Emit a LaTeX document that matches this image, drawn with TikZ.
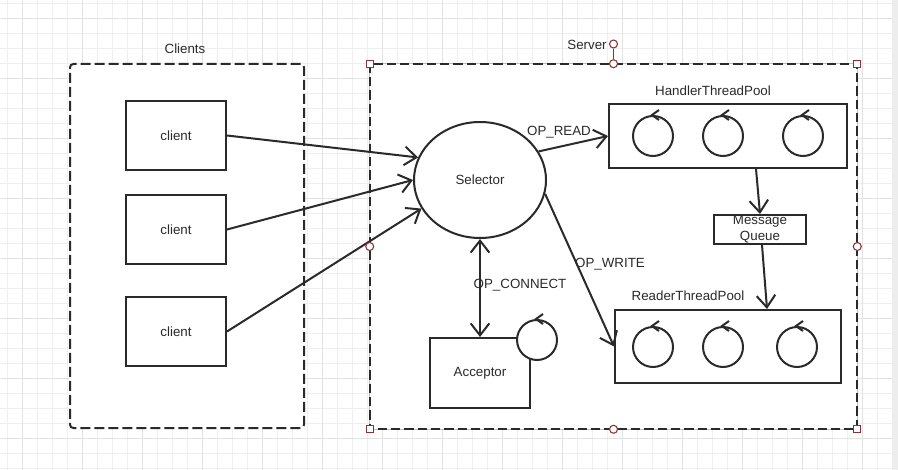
\documentclass[tikz,border=0pt]{standalone}
\usepackage{fontspec}
\setmainfont{Liberation Sans}
\usetikzlibrary{arrows.meta,fit,shapes.geometric}
\definecolor{ink}{HTML}{2A2A2A}
\definecolor{handlec}{HTML}{8A3333}
\definecolor{gridminor}{HTML}{EFEFEF}
\definecolor{gridmajor}{HTML}{E2E2E2}
\definecolor{selline}{HTML}{E6B0B0}
\definecolor{strip}{HTML}{EDEDED}
\newcommand\loopmark[1]{\draw[ink,line width=1.5pt,line join=miter] ([shift={(6,-5)}]#1.north) -- ([shift={(-1,0)}]#1.north) -- ([shift={(6,5)}]#1.north);}
\begin{document}
\begin{tikzpicture}[x=0.75pt,y=-0.75pt,
  txt/.style={font=\fontsize{10}{12}\selectfont, text=ink},
  box/.style={draw=ink, line width=1.5pt, fill=white, inner sep=0pt, txt},
  thread/.style={circle, draw=ink, line width=1.5pt, fill=white, minimum size=30pt, inner sep=0pt},
  arr/.style={draw=ink, line width=1.5pt, -{Straight Barb[length=9pt,width=14pt]}},
  dashbox/.style={draw=ink, line width=1.5pt, fill=white, inner sep=0pt, dash pattern=on 7.5pt off 3pt},
  hsq/.style={draw=handlec, fill=white, line width=0.8pt, minimum size=5.5pt, inner sep=0pt},
  hcirc/.style={circle, draw=handlec, fill=white, line width=0.8pt, minimum size=6pt, inner sep=0pt}]
\useasboundingbox (0,0) rectangle (898,470);
% background grid
\fill[white] (0,0) rectangle (898,470);
\foreach \i in {0,...,58} \draw[gridminor,line width=0.75pt] ({7.3+15*\i},0) -- ({7.3+15*\i},470);
\foreach \j in {0,...,31} \draw[gridminor,line width=0.75pt] (0,{3.3+15*\j}) -- (892,{3.3+15*\j});
\foreach \i in {0,...,14} \draw[gridmajor,line width=0.75pt] ({22.3+60*\i},0) -- ({22.3+60*\i},470);
\foreach \j in {0,...,7} \draw[gridmajor,line width=0.75pt] (0,{18.3+60*\j}) -- (892,{18.3+60*\j});
\fill[strip] (892,0) rectangle (898,470);

% Clients group
\node[dashbox, rounded corners=2.5pt, fit={(70,64) (304,428)}] (clients) {};
\node[txt] (clientslbl) at (185,49) {Clients};
\node[box, minimum width=75pt, minimum height=51.75pt] (c1) at (176,135.5) {client};
\node[box, minimum width=75pt, minimum height=51.75pt] (c2) at (176,229.5) {client};
\node[box, minimum width=75pt, minimum height=51.75pt] (c3) at (176,331.5) {client};

% Server group
\node[fill=white, inner sep=0pt, fit={(370,64) (857,429)}] (server) {};
\draw[selline, line width=1pt] (server.north west) rectangle (server.south east);
\draw[ink, line width=1.5pt, dash pattern=on 7pt off 3pt] (server.north west) rectangle (server.south east);
\node[txt] (serverlbl) at (587,45) {Server};

% Selector
\node[ellipse, draw=ink, line width=1.5pt, fill=white, minimum width=99pt, minimum height=87pt, inner sep=0pt, txt] (sel) at (480,180) {Selector};

% Handler thread pool
\node[box, fit={(609,104) (847,168)}] (hp) {};
\node[txt] (hplbl) at (713,91) {HandlerThreadPool};
\node[thread] (h1) at (653,136) {};
\node[thread] (h2) at (723,136) {};
\node[thread] (h3) at (803,136) {};
\loopmark{h1}\loopmark{h2}\loopmark{h3}

% Message queue
\node[box, align=center, minimum width=69pt, minimum height=21.75pt] (mq) at (760,229.5) {Message\\Queue};

% Reader thread pool
\node[box, fit={(615,310) (841,383)}] (rp) {};
\node[txt] (rplbl) at (688,296) {ReaderThreadPool};
\node[thread] (r1) at (653,347) {};
\node[thread] (r2) at (723,347) {};
\node[thread] (r3) at (797,347) {};
\loopmark{r1}\loopmark{r2}\loopmark{r3}

% Acceptor
\node[box, minimum width=75pt, minimum height=52.5pt] (acc) at (480,373) {Acceptor};
\node[thread] (al) at (537,340) {};
\loopmark{al}

% connectors
\draw[arr] (c1.east) -- (sel.160);
\draw[arr] (c2.east) -- (sel.180);
\draw[arr] (c3.east) -- (sel.206);
\draw[arr] (sel.26) -- (hp.west);
\draw[arr] (sel.-12) -- (rp.west);
\draw[arr, {Straight Barb[length=9pt,width=14pt]}-{Straight Barb[length=9pt,width=14pt]}] (sel.south) -- (acc.north);
\draw[arr] ([xshift=21pt]hp.south) -- (mq.north);
\draw[arr] ([xshift=1.5pt]mq.south) -- ([xshift=29.25pt]rp.north);

% connector labels
\node[txt] (lread) at (559,132) {OP\_READ};
\node[txt] (lwrite) at (610,264) {OP\_WRITE};
\node[txt] (lconn) at (520,285) {OP\_CONNECT};

% selection handles
\node[hsq] (hnw) at (server.north west) {};
\node[hsq] (hne) at (server.north east) {};
\node[hsq] (hsw) at (server.south west) {};
\node[hsq] (hse) at (server.south east) {};
\node[hcirc] (hw) at (server.west) {};
\node[hcirc] (he) at (server.east) {};
\node[hcirc] (hs) at (server.south) {};
\node[hcirc] (hn) at (server.north) {};
\node[hcirc] (hrot) at (613.5,44) {};
\draw[handlec, line width=0.8pt] (hrot) -- (hn);
\end{tikzpicture}
\end{document}
